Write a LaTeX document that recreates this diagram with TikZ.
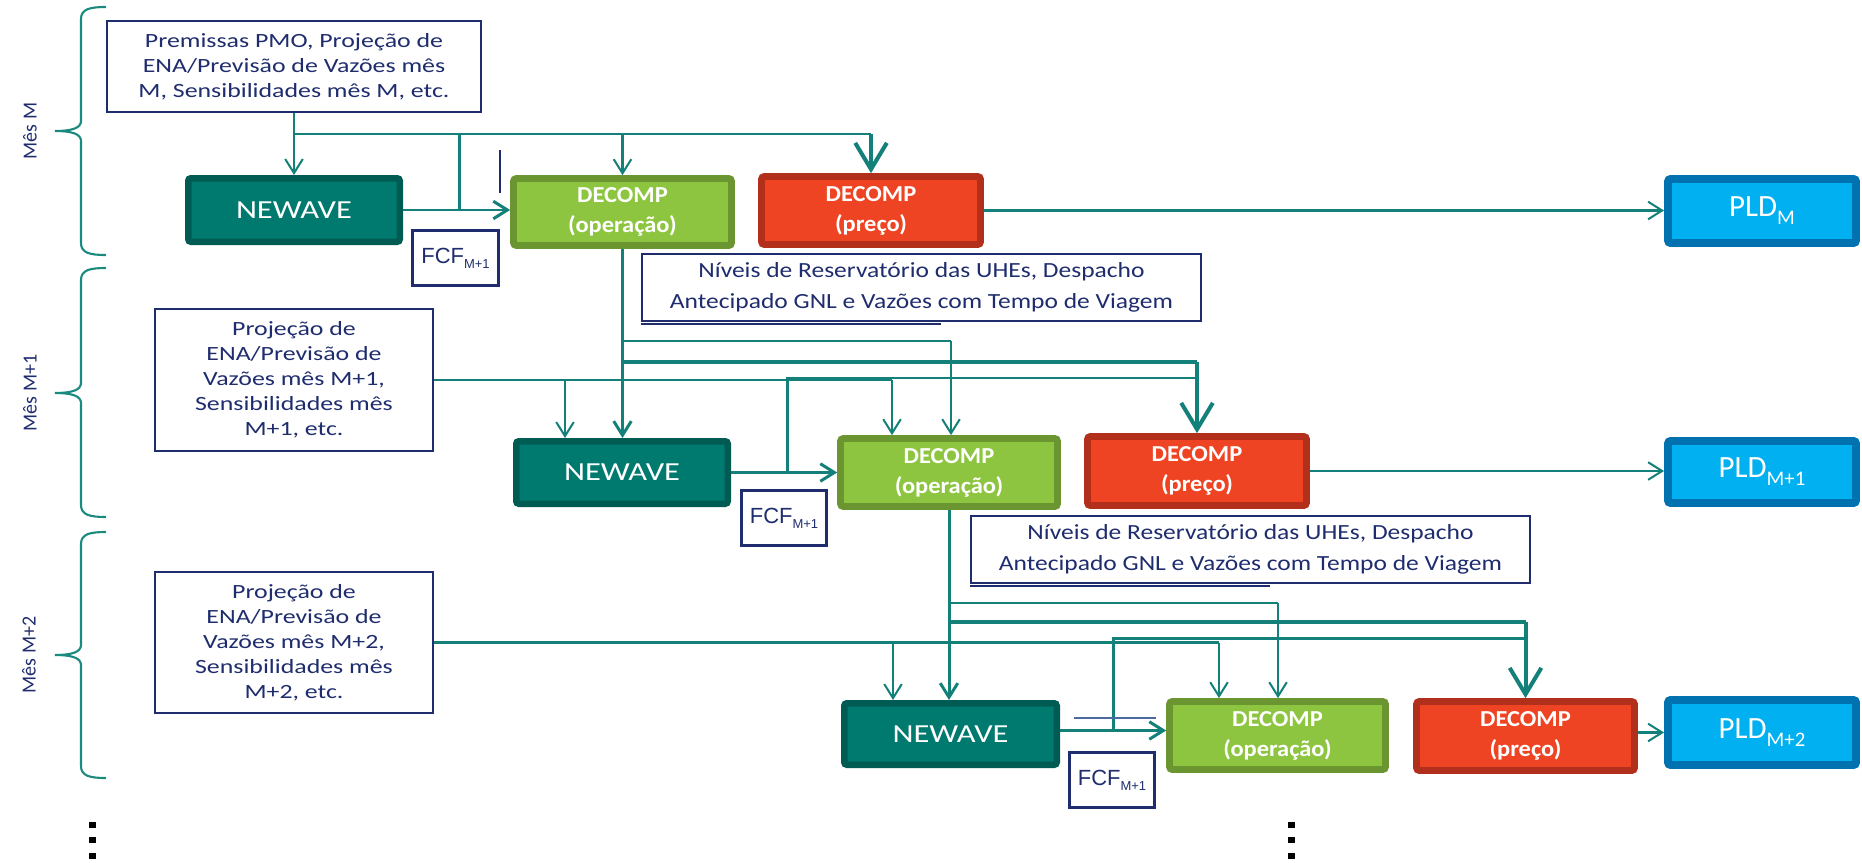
\documentclass[tikz,border=0pt]{standalone}
\usepackage{fontspec}
\setmainfont{Carlito}
\newfontfamily\fA[FakeStretch=1.28]{Carlito}
\newfontfamily\fNv[FakeStretch=1.18]{Carlito}
\newfontfamily\fNw[FakeStretch=1.25]{Carlito}
\newfontfamily\fDc[FakeStretch=1.07]{Carlito}
\newfontfamily\fFcf{Liberation Sans}
\usetikzlibrary{arrows.meta}
\definecolor{cLine}{HTML}{14807A}
\definecolor{cBrace}{HTML}{1A8A7F}
\definecolor{cNwF}{HTML}{00796F}
\definecolor{cNwD}{HTML}{005B53}
\definecolor{cOpF}{HTML}{8DC540}
\definecolor{cOpD}{HTML}{6B9530}
\definecolor{cPrF}{HTML}{EE4423}
\definecolor{cPrD}{HTML}{B22F1B}
\definecolor{cPlF}{HTML}{00B0F0}
\definecolor{cPlD}{HTML}{0072B0}
\definecolor{cNavy}{HTML}{1F2D6E}
\definecolor{cArt}{HTML}{4A6AA0}
\tikzset{
  sz/.style 2 args={minimum width=#1*0.02cm, minimum height=#2*0.02cm, inner sep=0pt},
  conn/.style={draw=cLine, line width=1.15pt},
  arr/.style={conn, -{Straight Barb[length=8pt,width=10pt]}},
  bigarr/.style={draw=cLine, line width=2.3pt, -{Straight Barb[length=15pt,width=18pt]}},
  nwbox/.style={fill=cNwF, draw=cNwD, line width=3.7pt, rounded corners=1.5pt, text=white,
    font=\fNw\fontsize{14.8pt}{17pt}\selectfont},
  opbox/.style={fill=cOpF, draw=cOpD, line width=3.8pt, rounded corners=1.5pt, text=white, align=center,
    font=\fDc\bfseries\fontsize{13pt}{17pt}\selectfont},
  prbox/.style={fill=cPrF, draw=cPrD, line width=3.8pt, rounded corners=1.5pt, text=white, align=center,
    font=\fDc\bfseries\fontsize{13pt}{17pt}\selectfont},
  pldbox/.style={fill=cPlF, draw=cPlD, line width=4.5pt, rounded corners=1.5pt, text=white,
    font=\fontsize{17.6pt}{20pt}\selectfont},
  inbox/.style={draw=cNavy, line width=1.2pt, fill=white, text=cNavy, align=center,
    font=\fA\fontsize{11.5pt}{14.2pt}\selectfont},
  nvbox/.style={draw=cNavy, line width=0.9pt, fill=white, text=cNavy, align=center,
    font=\fNv\fontsize{12.3pt}{18pt}\selectfont},
  fcfbox/.style={draw=cNavy, line width=1.8pt, fill=white, text=cNavy,
    font=\fFcf\fontsize{12.5pt}{14pt}\selectfont},
  mlabel/.style={rotate=90, text=cNavy, font=\fontsize{11.4pt}{13pt}\selectfont},
  brace/.style={draw=cBrace, line width=1.2pt},
}
\newcommand{\mybrace}[3]{%
  \draw[brace] (106,#1) .. controls (90,#1) and (81,{#1+2}) .. (81,{#1+12})
    -- (81,{#2-10}) .. controls (81,{#2-3}) and (72,#2) .. (55,#2)
    .. controls (72,#2) and (81,{#2+3}) .. (81,{#2+10})
    -- (81,{#3-12}) .. controls (81,{#3-2}) and (90,#3) .. (106,#3);}
\newcommand{\pldtxt}[1]{PLD\raisebox{-4.5pt}{\fontsize{11.8pt}{12pt}\selectfont #1}}
\newcommand{\fcftxt}{FCF\raisebox{-2.8pt}{\fontsize{7.4pt}{8pt}\selectfont M+1}}
\begin{document}
\begin{tikzpicture}[x=0.02cm, y=-0.02cm]
\useasboundingbox (0,0) rectangle (1862,862);

% braces and month labels
\mybrace{7}{131}{255}
\mybrace{268}{393}{517}
\mybrace{532}{655}{778}
\node[mlabel] (lm0) at (30,131) {Mês M};
\node[mlabel] (lm1) at (30,393) {Mês M+1};
\node[mlabel] (lm2) at (29,655) {Mês M+2};

% row 1
\node[inbox, sz={374}{91}] (pre) at (294,66.5) {Premissas PMO, Projeção de\\ENA/Previsão de Vazões mês\\M, Sensibilidades mês M, etc.};
\node[nwbox, sz={211.5}{63.5}] (nw1) at (294,210) {NEWAVE};
\node[fcfbox, sz={86}{55}] (fcf1) at (455.5,258) {\fcftxt};
\node[opbox, sz={218}{67}] (op1) at (622.5,212) {DECOMP\\(operação)};
\node[prbox, sz={219}{68}] (pr1) at (871,210.5) {DECOMP\\(preço)};
\node[pldbox, sz={188}{64}] (pld1) at (1762,211) {\pldtxt{M}};
\node[nvbox, sz={559}{67}] (nv1) at (921.5,287.5) {Níveis de Reservatório das UHEs, Despacho\\Antecipado GNL e Vazões com Tempo de Viagem};
\draw[cNavy, line width=1.4pt] ([yshift=-1.2pt]nv1.south west) -- ++(300,0);

% row 2
\node[inbox, sz={278}{142}] (in2) at (294,380) {Projeção de\\ENA/Previsão de\\Vazões mês M+1,\\Sensibilidades mês\\M+1, etc.};
\node[nwbox, sz={211.5}{62.5}] (nw2) at (622,472.5) {NEWAVE};
\node[fcfbox, sz={85}{55}] (fcf2) at (784,518) {\fcftxt};
\node[opbox, sz={217}{68}] (op2) at (949,472.5) {DECOMP\\(operação)};
\node[prbox, sz={219}{69}] (pr2) at (1197,471) {DECOMP\\(preço)};
\node[pldbox, sz={188}{62}] (pld2) at (1762,472) {\pldtxt{M+1}};
\node[nvbox, sz={559}{67}] (nv2) at (1250.5,549.5) {Níveis de Reservatório das UHEs, Despacho\\Antecipado GNL e Vazões com Tempo de Viagem};
\draw[cNavy, line width=1.4pt] ([yshift=-1.2pt]nv2.south west) -- ++(300,0);

% row 3
\node[inbox, sz={278}{141}] (in3) at (294,642.5) {Projeção de\\ENA/Previsão de\\Vazões mês M+2,\\Sensibilidades mês\\M+2, etc.};
\node[nwbox, sz={212.5}{61.5}] (nw3) at (950.5,734) {NEWAVE};
\node[fcfbox, sz={85}{55}] (fcf3) at (1112,780) {\fcftxt};
\node[opbox, sz={216}{68}] (op3) at (1277.5,735.5) {DECOMP\\(operação)};
\node[prbox, sz={218}{69}] (pr3) at (1525.5,736) {DECOMP\\(preço)};
\node[pldbox, sz={188}{65}] (pld3) at (1762,732.5) {\pldtxt{M+2}};

% helper levels
\coordinate (h1a) at (0,134);
\coordinate (v1) at (459,0);
\coordinate (h2a) at (0,341);
\coordinate (h2b) at (0,362);
\coordinate (h2d) at (0,378);
\coordinate (x2a) at (565,0);
\coordinate (x2b) at (892,0);
\coordinate (x2c) at (951,0);
\coordinate (x2n) at (787,0);
\coordinate (h3a) at (0,603);
\coordinate (h3b) at (0,622);
\coordinate (h3d) at (0,638);
\coordinate (x3a) at (893,0);
\coordinate (x3b) at (1219,0);
\coordinate (x3c) at (1278,0);
\coordinate (x3n) at (1113,0);

% row 1 connectors
\draw[conn, line width=1.7pt] (pre.south) -- (pre.south |- h1a) -- (op1.north |- h1a);
\draw[arr] (op1.north |- h1a) -- (op1.north);
\draw[arr] (pre.south |- h1a) -- (nw1.north);
\draw[arr, line width=1.7pt] (nw1.east) -- (nw1.east -| op1.west);
\draw[conn, line width=1.7pt] (nw1.east -| v1) -- (v1 |- h1a) -- (pr1.north |- h1a);
\draw[bigarr] (pr1.north |- h1a) -- (pr1.north);
\draw[arr] (pr1.east) -- (pr1.east -| pld1.west);

% row 2 connectors
\draw[arr, line width=1.7pt] (op1.south) -- (op1.south |- nw2.north);
\draw[conn] (op1.south |- h2a) -- (x2c |- h2a);
\draw[arr] (x2c |- h2a) -- (x2c |- op2.north);
\draw[conn, line width=2.3pt] (op1.south |- h2b) -- (pr2.north |- h2b);
\draw[bigarr] (pr2.north |- h2b) -- (pr2.north);
\draw[conn] (in2.east) -- (in2.east -| x2b);
\draw[arr] (x2a |- in2.east) -- (x2a |- nw2.north);
\draw[arr] (x2b |- in2.east) -- (x2b |- op2.north);
\draw[arr, line width=1.7pt] (nw2.east) -- (nw2.east -| op2.west);
\draw[conn, line width=1.7pt] (nw2.east -| x2n) -- (x2n |- h2d) -- (pr2.north |- h2d);
\draw[arr] (pr2.east) -- (pr2.east -| pld2.west);

% row 3 connectors
\draw[arr, line width=1.7pt] (op2.south) -- (op2.south |- nw3.north);
\draw[conn] (op2.south |- h3a) -- (x3c |- h3a);
\draw[arr] (x3c |- h3a) -- (x3c |- op3.north);
\draw[conn, line width=2.3pt] (op2.south |- h3b) -- (pr3.north |- h3b);
\draw[bigarr] (pr3.north |- h3b) -- (pr3.north);
\draw[conn] (in3.east) -- (in3.east -| x3b);
\draw[arr] (x3a |- in3.east) -- (x3a |- nw3.north);
\draw[arr] (x3b |- in3.east) -- (x3b |- op3.north);
\draw[arr, line width=1.7pt] ([yshift=2pt]nw3.east) -- ([yshift=2pt]nw3.east -| op3.west);
\draw[conn, line width=1.7pt] ([yshift=2pt]nw3.east -| x3n) -- (x3n |- h3d) -- (pr3.north |- h3d);
\draw[arr] ([yshift=2pt]pr3.east) -- ([yshift=2pt]pr3.east -| pld3.west);

% stray marks
\draw[cNavy, line width=1.2pt] (500,150) -- (500,193);
\draw[cArt, line width=0.8pt] (1074,718) -- (1156,718);

% continuation dots
\foreach \yy in {825,840,856} {
  \fill (88.5,{\yy-3}) rectangle (95.5,{\yy+3});
  \fill (1287.5,{\yy-3}) rectangle (1294.5,{\yy+3});
}
\end{tikzpicture}
\end{document}
